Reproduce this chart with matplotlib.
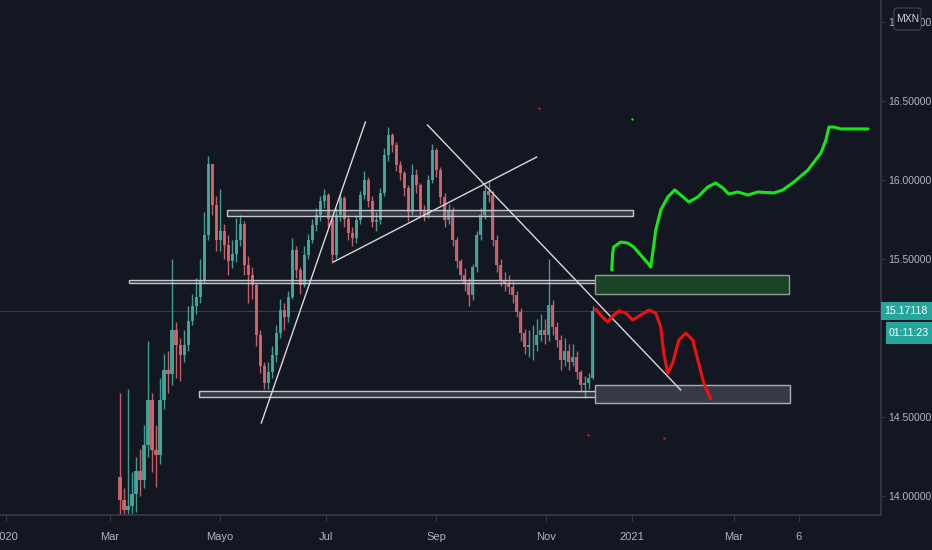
import numpy as np
import matplotlib
matplotlib.use("Agg")
import matplotlib.pyplot as plt
from matplotlib.patches import Rectangle, FancyBboxPatch
from matplotlib.transforms import blended_transform_factory

plt.rcParams["font.family"] = ["Liberation Sans", "DejaVu Sans"]

BG = "#131722"
UP, DOWN = "#45ab9e", "#d9666d"
TXT = "#b2b5be"
AXLINE = "#363a45"

# ---- price bars (one bar per x unit, starting at bar 30) ----
FIRST_BAR = 30
first_open = 14.12
closes = [
    13.975, 13.91, 13.94, 14.01, 14.16, 14.10, 14.32, 14.61, 14.29, 14.26,
    14.61, 14.80, 14.77, 15.05, 14.955, 14.89, 14.955, 15.11, 15.20, 15.26,
    15.37, 15.65, 16.10, 15.84, 15.62, 15.68, 15.59, 15.49, 15.53, 15.62,
    15.72, 15.46, 15.40, 15.335, 15.02, 14.82, 14.715, 14.785, 14.89, 15.03,
    15.18, 15.13, 15.26, 15.56, 15.43, 15.335, 15.525, 15.62, 15.715, 15.78,
    15.87, 15.905, 15.75, 15.525, 15.78, 15.885, 15.75, 15.665, 15.63, 15.745,
    15.905, 16.00, 15.87, 15.735, 15.745, 15.92, 16.16, 16.285, 16.22, 16.095,
    16.045, 15.95, 15.80, 16.03, 15.97, 15.81, 15.78, 16.00, 16.19, 16.063,
    15.89, 15.747, 15.81, 15.62, 15.49, 15.40, 15.35, 15.27, 15.45, 15.65,
    15.78, 15.93, 15.905, 15.62, 15.46, 15.37, 15.35, 15.32, 15.27, 15.165,
    15.03, 14.945, 14.955, 14.955, 15.02, 15.05, 15.02, 15.21, 15.07, 14.99,
    14.86, 14.92, 14.85, 14.88, 14.785, 14.70, 14.715, 14.75, 15.171,
]
highs = [
    14.65, 14.05, 14.68, 14.15, 14.25, 14.30, 14.45, 14.98, 14.65, 14.45,
    14.75, 14.90, 14.92, 15.50, 15.10, 15.00, 15.05, 15.20, 15.28, 15.38,
    15.50, 15.80, 16.15, 16.10, 15.90, 15.94, 15.72, 15.65, 15.62, 15.76,
    15.78, 15.74, 15.52, 15.45, 15.35, 15.05, 14.85, 14.85, 14.95, 15.08,
    15.25, 15.22, 15.30, 15.63, 15.58, 15.45, 15.58, 15.66, 15.75, 15.82,
    15.90, 15.94, 15.92, 15.78, 15.82, 15.91, 15.90, 15.78, 15.70, 15.78,
    15.93, 16.06, 16.02, 15.90, 15.80, 15.95, 16.20, 16.335, 16.30, 16.24,
    16.12, 16.06, 15.97, 16.10, 16.07, 15.98, 15.84, 16.03, 16.23, 16.20,
    16.08, 15.92, 15.85, 15.83, 15.64, 15.50, 15.44, 15.38, 15.47, 15.68,
    15.82, 15.96, 16.00, 15.93, 15.65, 15.50, 15.42, 15.40, 15.36, 15.30,
    15.19, 15.06, 15.05, 15.08, 15.12, 15.15, 15.12, 15.50, 15.24, 15.10,
    15.02, 15.00, 14.96, 14.96, 14.92, 14.80, 14.76, 14.78, 15.20,
]
lows = [
    13.80, 13.80, 13.80, 13.82, 13.90, 14.00, 14.05, 14.25, 14.15, 14.06,
    14.20, 14.55, 14.65, 14.70, 14.75, 14.73, 14.85, 14.92, 15.08, 15.15,
    15.22, 15.35, 15.62, 15.78, 15.55, 15.55, 15.50, 15.40, 15.44, 15.48,
    15.58, 15.40, 15.22, 15.25, 14.95, 14.78, 14.68, 14.68, 14.75, 14.85,
    15.00, 15.05, 15.10, 15.25, 15.38, 15.28, 15.32, 15.50, 15.60, 15.68,
    15.74, 15.82, 15.70, 15.475, 15.50, 15.74, 15.70, 15.62, 15.58, 15.60,
    15.72, 15.88, 15.83, 15.70, 15.68, 15.72, 15.90, 16.12, 16.18, 16.06,
    16.00, 15.90, 15.74, 15.78, 15.92, 15.77, 15.74, 15.76, 15.98, 16.02,
    15.85, 15.70, 15.72, 15.58, 15.44, 15.36, 15.30, 15.20, 15.24, 15.42,
    15.62, 15.75, 15.86, 15.58, 15.42, 15.33, 15.30, 15.28, 15.22, 15.13,
    14.98, 14.90, 14.88, 14.86, 14.92, 14.98, 14.96, 14.98, 15.02, 14.94,
    14.80, 14.82, 14.80, 14.82, 14.74, 14.66, 14.62, 14.68, 14.74,
]
last_price = 15.17118
countdown = "01:11:23"

# ---- drawings ----
# (bar_start, bar_end, price_low, price_high)
zones = [
    (56.75, 158.0, 15.775, 15.81),
    (32.25, 171.5, 15.35, 15.37),
    (49.75, 167.75, 14.627, 14.665),
]
green_box = (148.5, 197.0, 15.278, 15.40)
gray_box = (148.5, 197.25, 14.588, 14.70)
# (x0, p0, x1, p1)
trend_lines = [
    (65.25, 14.462, 91.25, 16.367),
    (83.25, 15.481, 134.0, 16.145),
    (106.75, 16.348, 170.0, 14.671),
]
green_x = [152.75, 153.0, 153.25, 155.0, 156.75, 158.25, 160.0, 161.75, 162.5, 163.0,
           163.75, 165.0, 166.75, 168.5, 170.0, 172.0, 174.25, 176.75, 178.75, 180.5,
           182.0, 184.25, 186.75, 189.25, 193.25, 195.5, 198.25, 201.75, 205.0, 206.25,
           207.0, 208.25, 210.0, 213.25, 216.75]
green_y = [15.430, 15.538, 15.576, 15.607, 15.601, 15.576, 15.525, 15.475, 15.449, 15.538,
           15.683, 15.810, 15.892, 15.937, 15.905, 15.861, 15.892, 15.956, 15.981, 15.949,
           15.911, 15.924, 15.905, 15.924, 15.918, 15.937, 15.987, 16.063, 16.171, 16.253,
           16.335, 16.335, 16.323, 16.323, 16.323]
red_x = [148.75, 150.0, 151.75, 153.0, 154.5, 156.25, 158.0, 160.0, 162.0, 163.75,
         165.0, 165.75, 166.75, 168.0, 169.5, 171.25, 173.0, 174.25, 175.75, 177.5]
red_y = [15.183, 15.145, 15.101, 15.139, 15.171, 15.158, 15.114, 15.145, 15.177, 15.158,
         15.069, 14.905, 14.778, 14.842, 14.987, 15.031, 14.987, 14.861, 14.715, 14.614]
red_dots_x = [134.5, 146.75, 165.75]
red_dots_y = [16.455, 14.386, 14.367]
green_dots_x = [157.75]
green_dots_y = [16.386]

# ---- axis ----
Y_MIN, Y_MAX = 13.880, 17.139
X_MIN, X_MAX = 0, 220
# 15.00000 sits under the countdown badge in the source, so it is left out
price_ticks = [14.0, 14.5, 15.5, 16.0, 16.5, 17.0]
date_ticks = [1.5, 27.5, 55, 81.5, 109, 136.25, 157.75, 183.25, 199.5]
date_labels = ["2020", "Mar", "Mayo", "Jul", "Sep", "Nov", "2021", "Mar", "6"]

W, H = 932, 550
fig = plt.figure(figsize=(W / 100, H / 100), dpi=100, facecolor=BG)
ax = fig.add_axes([0, 35 / H, 881 / W, 515 / H])
ax.set_facecolor(BG)
ax.set_xlim(X_MIN, X_MAX)
ax.set_ylim(Y_MIN, Y_MAX)

# candles
opens = [first_open] + closes[:-1]
xs = np.arange(FIRST_BAR, FIRST_BAR + len(closes))
o = np.array(opens)
c = np.array(closes)
cols = [UP if cc >= oo else DOWN for oo, cc in zip(o, c)]
ax.vlines(xs, lows, highs, colors=cols, lw=1.0, alpha=0.9, zorder=2)
ax.bar(xs, np.abs(c - o), bottom=np.minimum(o, c), width=0.85, color=cols,
       alpha=0.9, zorder=3, linewidth=0)

# last price line
ax.axhline(last_price, color="#2c4347", lw=0.8, zorder=1)

# zones
for x0, x1, p0, p1 in zones:
    ax.add_patch(Rectangle((x0, p0), x1 - x0, p1 - p0, facecolor="#9598a1",
                           alpha=0.25, edgecolor="none", zorder=4))
    ax.add_patch(Rectangle((x0, p0), x1 - x0, p1 - p0, facecolor="none",
                           edgecolor="#c4c6cc", lw=1.0, zorder=4))
x0, x1, p0, p1 = green_box
ax.add_patch(Rectangle((x0, p0), x1 - x0, p1 - p0, facecolor="#1b4426",
                       edgecolor="#8f9c93", lw=1.0, zorder=4))
x0, x1, p0, p1 = gray_box
ax.add_patch(Rectangle((x0, p0), x1 - x0, p1 - p0, facecolor="#363a45",
                       edgecolor="#a9acb3", lw=1.0, zorder=4))

for x0, p0, x1, p1 in trend_lines:
    ax.plot([x0, x1], [p0, p1], color="#d8d9dc", lw=1.0, zorder=5)

ax.plot(green_x, green_y, color="#19e619", lw=2.2, solid_joinstyle="round",
        solid_capstyle="round", zorder=6)
ax.plot(red_x, red_y, color="#ee1111", lw=2.2, solid_joinstyle="round",
        solid_capstyle="round", zorder=6)
ax.scatter(red_dots_x, red_dots_y, s=3, color="#ee1111", zorder=6, linewidths=0)
ax.scatter(green_dots_x, green_dots_y, s=3, color="#19e619", zorder=6, linewidths=0)

# axes styling
for side in ("top", "left"):
    ax.spines[side].set_visible(False)
ax.spines["right"].set_color(AXLINE)
ax.spines["bottom"].set_color(AXLINE)
ax.spines["right"].set_linewidth(1.2)
ax.spines["bottom"].set_linewidth(1.2)

ax.yaxis.tick_right()
ax.set_yticks(price_ticks)
ax.set_yticklabels([f"{p:.5f}" for p in price_ticks])
ax.tick_params(axis="y", colors=AXLINE, labelcolor=TXT, labelsize=7.5, length=3,
               width=0.8, pad=2)
ax.set_xticks(date_ticks)
ax.set_xticklabels(date_labels)
ax.tick_params(axis="x", color=AXLINE, labelcolor=TXT, labelsize=8.0, length=4,
               width=0.8, pad=8)

# last price label & countdown
tr = blended_transform_factory(ax.transAxes, ax.transData)
ax.add_patch(Rectangle((1.0, last_price - 0.057), 51 / 881, 0.114, transform=tr,
                       facecolor="#26a69a", edgecolor="none", clip_on=False, zorder=10))
ax.text(1.0 + 25 / 881, last_price, f"{last_price:.5f}", transform=tr, color="white",
        fontsize=7.6, ha="center", va="center", clip_on=False, zorder=11)
ax.add_patch(Rectangle((1.0 + 5 / 881, 14.962), 46 / 881, 0.139, transform=tr,
                       facecolor="#26a69a", edgecolor="none", clip_on=False, zorder=10))
ax.text(1.0 + 27.5 / 881, 15.031, countdown, transform=tr, color="white",
        fontsize=7.6, ha="center", va="center", clip_on=False, zorder=11)

# currency badge (covers the middle of the top tick label, as in the source)
fig.patches.append(FancyBboxPatch((894 / W, 1 - 30 / H), 27 / W, 22 / H,
                                  boxstyle="round,pad=0,rounding_size=0.004",
                                  transform=fig.transFigure, facecolor=BG,
                                  edgecolor="#434651", lw=0.8, zorder=20))
fig.text(907.5 / W, 1 - 19 / H, "MXN", color="#d1d4dc", fontsize=7.5, ha="center",
         va="center", zorder=21)

fig.savefig("out.png", dpi=100, facecolor=BG)
